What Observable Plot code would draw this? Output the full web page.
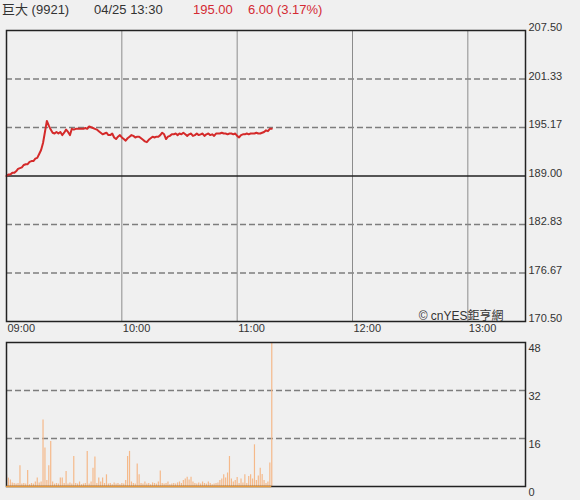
<!DOCTYPE html>
<html><head><meta charset="utf-8">
<script src="https://cdn.jsdelivr.net/npm/d3@7"></script>
<script src="https://cdn.jsdelivr.net/npm/@observablehq/plot@0.6"></script>
<style>
body{margin:0;background:#f0f0f0;font-family:"Liberation Sans",Arial,"Noto Sans CJK TC",sans-serif;}
#wrap{position:relative;width:580px;height:500px;overflow:hidden;background:#f0f0f0;}
.h{position:absolute;top:2px;font-size:13px;color:#333;white-space:nowrap;line-height:16px;}
.red{color:#d42a33;}
#p1,#p2{position:absolute;left:0;}
#p1{top:0;} #p2{top:338px;}
</style></head>
<body>
<div id="wrap">
  <div id="p1"></div>
  <div id="p2"></div>
  <span class="h" id="hName" style="left:2px;"></span>
  <span class="h" id="hTime" style="left:94px;"></span>
  <span class="h red" id="hPrice" style="left:193px;"></span>
  <span class="h red" id="hChange" style="left:248px;"></span>
</div>
<script>
// ---- header texts ----
const stockName = "巨大 (9921)";
const quoteTime = "04/25 13:30";
const lastPrice = "195.00";
const changeText = "6.00 (3.17%)";
const copyright = "© cnYES鉅亨網";

// ---- axes ----
const startTime = "2024-04-25T09:00:00Z";
const endTime = "2024-04-25T13:30:00Z";
const hourTicks = ["09:00", "10:00", "11:00", "12:00", "13:00"];
const prevClose = 189.00;
const priceTicks = [170.50, 176.67, 182.83, 189.00, 195.17, 201.33, 207.50];
const priceDomain = [170.50, 207.50];
const volTicks = [0, 16, 32, 48];
const volDomain = [0, 48];

// ---- per-minute series from 09:00 ----
const prices = [
  189.0,189.2,189.2,189.4,189.4,189.6,189.9,190.0,190.1,190.4,
  190.5,190.5,190.8,190.9,190.9,191.2,191.3,191.8,192.3,193.2,
  194.6,196.0,195.4,194.9,194.5,194.4,194.6,194.4,194.6,194.2,
  194.5,194.9,194.6,194.2,195.0,194.9,195.0,195.0,195.0,195.0,
  195.0,195.1,195.0,195.3,195.2,195.1,195.0,194.9,194.7,194.5,
  194.3,194.4,194.5,194.2,194.2,194.4,193.9,193.7,194.0,194.2,
  193.9,193.7,193.5,193.8,194.0,194.2,194.1,193.9,194.0,194.0,
  193.8,193.6,193.4,193.3,193.6,193.8,194.0,193.9,194.0,194.0,
  194.2,194.5,194.3,193.7,194.0,194.1,194.3,194.3,194.4,194.2,
  194.4,194.3,194.5,194.3,194.1,194.3,194.4,194.1,194.2,194.4,
  194.2,194.3,194.4,194.1,194.3,194.4,194.2,194.3,194.1,194.4,
  194.4,194.4,194.5,194.4,194.4,194.3,194.4,194.4,194.3,194.4,
  194.1,193.9,194.2,194.3,194.3,194.4,194.3,194.4,194.4,194.4,
  194.5,194.4,194.4,194.5,194.6,194.8,194.7,195.0,195.0
];
const volumes = [
  3.9,2.8,2.2,1.2,1.0,0.8,1.0,6.9,0.8,1.0,
  0.8,5.3,0.6,1.0,0.8,1.5,2.8,1.2,1.5,22.2,
  12.8,2.0,6.9,15.0,1.5,0.8,1.0,0.8,2.8,2.8,
  1.0,5.0,0.8,1.2,0.8,10.0,1.0,0.8,1.5,0.6,
  0.8,1.0,11.7,0.8,1.5,6.1,9.8,1.0,2.8,1.5,
  2.8,1.0,3.9,0.8,1.0,0.6,1.2,0.8,1.0,0.6,
  1.0,0.8,2.0,10.0,11.7,1.5,1.0,0.8,7.5,3.9,
  1.0,0.8,1.5,0.8,1.0,0.6,1.2,1.0,0.8,1.5,
  5.2,1.0,0.8,1.0,1.5,0.6,0.8,1.0,0.8,1.2,
  1.5,1.0,2.0,2.5,3.1,2.2,3.1,1.5,1.0,0.8,
  1.2,0.8,1.5,1.0,0.8,1.5,1.0,0.6,0.8,1.0,
  1.2,2.0,2.5,3.9,2.8,4.5,10.0,2.5,1.5,2.0,
  3.0,1.0,2.5,1.2,3.9,1.0,3.3,3.9,2.5,13.9,
  2.0,3.5,6.1,4.0,2.0,1.0,1.5,7.8,52
];

// ---- render ----
document.getElementById("hName").textContent = stockName;
document.getElementById("hTime").textContent = quoteTime;
document.getElementById("hPrice").textContent = lastPrice;
document.getElementById("hChange").textContent = changeText;

const t0 = new Date(startTime), t1 = new Date(endTime);
const minute = i => new Date(t0.getTime() + i * 60000);
const hourDates = hourTicks.map(s => new Date(startTime.replace("09:00", s)));
const priceData = prices.map((p, i) => ({t: minute(i), p}));
const volData = volumes.map((v, i) => ({t: minute(i), v}));
const fmtHM = d3.utcFormat("%H:%M");
const font = "'Liberation Sans', Arial, 'Noto Sans CJK TC', sans-serif";
const common = {
  width: 580, marginLeft: 6, marginRight: 55,
  style: {background: "transparent", fontFamily: font, fontSize: "11px", color: "#333", overflow: "visible"}
};

const plot1 = Plot.plot({
  ...common,
  height: 338, marginTop: 30, marginBottom: 17,
  x: {type: "utc", domain: [t0, t1], label: null},
  y: {domain: priceDomain, label: null},
  marks: [
    Plot.ruleY(priceTicks.filter(v => v !== prevClose && v !== priceDomain[0] && v !== priceDomain[1]),
      {stroke: "#7d7d7d", strokeWidth: 1.5, strokeDasharray: "6,3"}),
    Plot.ruleX(hourDates.slice(1), {stroke: "#8c8c8c", strokeWidth: 1}),
    Plot.ruleY([prevClose], {stroke: "#222", strokeWidth: 1.5}),
    Plot.line(priceData, {x: "t", y: "p", stroke: "#d42a2a", strokeWidth: 2}),
    Plot.frame({stroke: "#222", strokeWidth: 1.5}),
    Plot.axisY(priceTicks, {anchor: "right", tickSize: 0, tickPadding: 3, textAnchor: "start",
      tickFormat: d => d.toFixed(2), dy: -3, fill: "#333", label: null}),
    Plot.axisX(hourDates, {anchor: "bottom", tickSize: 0, tickPadding: 2, textAnchor: "start",
      tickFormat: fmtHM, dx: 1, dy: 1, fill: "#333", label: null}),
    Plot.text([copyright], {frameAnchor: "bottom-right", text: d => d, dx: -22, dy: -2,
      lineAnchor: "bottom", textAnchor: "end", fontSize: 12, fill: "#333"})
  ]
});
document.getElementById("p1").appendChild(plot1);

const plot2 = Plot.plot({
  ...common,
  height: 162, marginTop: 4, marginBottom: 14,
  x: {type: "utc", domain: [t0, t1], label: null, axis: null},
  y: {domain: volDomain, label: null},
  marks: [
    Plot.ruleY(volTicks.filter(v => v !== volDomain[0] && v !== volDomain[1]),
      {stroke: "#7d7d7d", strokeWidth: 1.5, strokeDasharray: "6,3"}),
    Plot.ruleX(volData, {x: "t", y1: 0, y2: "v", stroke: "#f5b98a", strokeWidth: 1.2, clip: true}),
    Plot.frame({stroke: "#222", strokeWidth: 1.5}),
    Plot.ruleY([0], {x1: volData[0].t, x2: volData[volData.length - 1].t, stroke: "#e89a3c", strokeWidth: 1.5}),
    Plot.axisY(volTicks, {anchor: "right", tickSize: 0, tickPadding: 3, textAnchor: "start",
      dy: 6, fill: "#333", label: null})
  ]
});
document.getElementById("p2").appendChild(plot2);
</script>
</body></html>
